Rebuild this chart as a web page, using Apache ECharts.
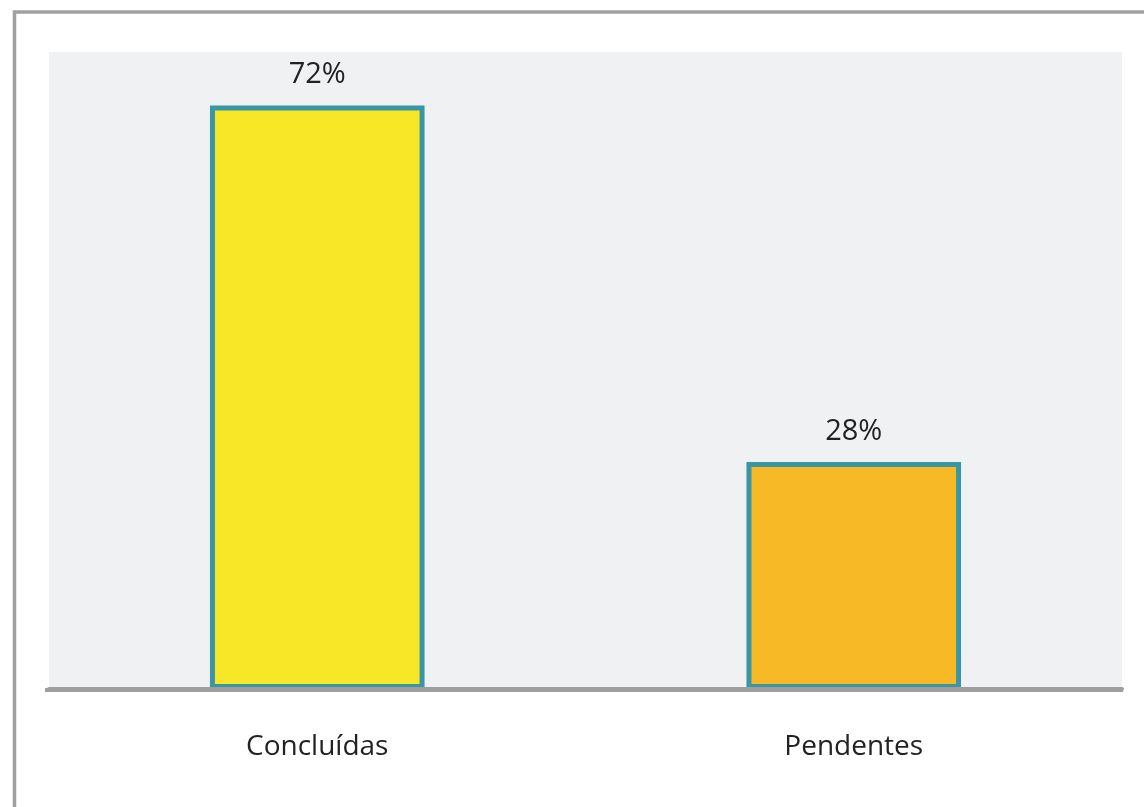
<!DOCTYPE html>
<html>
<head>
<meta charset="utf-8">
<script src="https://cdn.jsdelivr.net/npm/echarts@6/dist/echarts.min.js"></script>
<style>
  html, body { margin: 0; padding: 0; background: #ffffff; }
  #chart { width: 1144px; height: 807px; }
</style>
</head>
<body>
<div id="chart"></div>
<script>
const categories = ['Concluídas', 'Pendentes'];
const values = [72, 28];
const barColors = ['#f7e727', '#f8b927'];

const chart = echarts.init(document.getElementById('chart'), null, { renderer: 'canvas' });

chart.setOption({
  animation: false,
  backgroundColor: '#ffffff',
  textStyle: { fontFamily: 'Open Sans' },
  graphic: [{
    type: 'rect',
    z: 100,
    silent: true,
    shape: { x: 14.5, y: 12, width: 1300, height: 1000 },
    style: { fill: 'none', stroke: '#a0a0a2', lineWidth: 3.5 }
  }, {
    type: 'line',
    z: 100,
    silent: true,
    shape: { x1: 45, y1: 690, x2: 1123, y2: 690 },
    style: { stroke: '#9d9ea0', lineWidth: 4 }
  }],
  grid: {
    left: 49, right: 22, top: 52, bottom: 118,
    show: true, backgroundColor: '#f0f1f3', borderWidth: 0,
    containLabel: false
  },
  xAxis: {
    type: 'category',
    data: categories,
    z: 5,
    axisLine: { show: true, lineStyle: { color: '#9d9ea0', width: 4 } },
    axisTick: { show: false },
    axisLabel: { color: '#222222', fontSize: 28, margin: 44, fontFamily: 'Open Sans' },
    splitLine: { show: false }
  },
  yAxis: {
    type: 'value',
    min: 0,
    max: 78.6,
    show: false,
    splitLine: { show: false }
  },
  series: [{
    type: 'bar',
    data: values.map((v, i) => ({ value: v, itemStyle: { color: barColors[i] } })),
    barWidth: '40%',
    itemStyle: { borderColor: '#3a95a4', borderWidth: 5 },
    label: {
      show: true,
      position: 'top',
      distance: 16,
      formatter: p => p.value + '%',
      color: '#222222',
      fontSize: 29,
      fontFamily: 'Open Sans'
    }
  }]
});
</script>
</body>
</html>
